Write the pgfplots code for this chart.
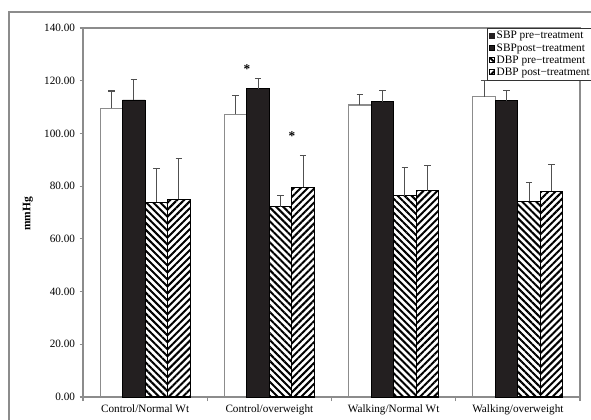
\documentclass[border=0pt]{standalone}
\usepackage{fontspec}
\setmainfont{Liberation Serif}
\usepackage{pgfplots}
\pgfplotsset{compat=1.18}
\usetikzlibrary{patterns.meta}
\definecolor{barblack}{HTML}{231F20}
\definecolor{framegray}{HTML}{8C8C8C}
\definecolor{errgray}{HTML}{505050}
\begin{document}
\begin{tikzpicture}
\useasboundingbox (0,0) rectangle (443.25pt,314.25pt);
\draw[framegray, line width=0.9pt] (6.75pt,-5pt) -- (6.75pt,305.25pt) -- (450pt,305.25pt);
\begin{axis}[
  at={(62.25pt,16.5pt)}, anchor=south west,
  scale only axis, width=372.75pt, height=276.75pt,
  ybar=0pt, bar width=16.875pt,
  xmin=-0.5, xmax=3.5, ymin=0, ymax=140,
  xtick={0,1,2,3},
  xticklabels={Control/Normal Wt, Control/overweight, Walking/Normal Wt, Walking/overweight},
  minor xtick={-0.5,0.5,1.5,2.5,3.5},
  ytick={0,20,...,140},
  xtick pos=left, ytick pos=left,
  tick align=outside,
  major tick length=2.5pt, minor tick length=3pt,
  major x tick style={draw=none},
  tick style={framegray, line width=0.8pt},
  axis line style={framegray, line width=0.9pt},
  ticklabel style={font=\fontsize{8.4}{10}\selectfont, text=black},
  /pgf/number format/.cd, fixed, fixed zerofill, precision=2, assume math mode=true,
  /pgfplots/.cd,
  ylabel={\textbf{mmHg}},
  ylabel style={at={(axis description cs:-0.111,0.496)}, anchor=center, font=\fontsize{8.6}{10}\selectfont},
  legend style={at={(axis description cs:0.813,1.0)}, anchor=north west, draw=black!80, line width=0.5pt,
    font=\fontsize{8.5}{9}\selectfont, inner sep=1pt, row sep=-0.6pt, legend cell align=left,
    nodes={inner sep=1.3pt}},
  legend image code/.code={\draw[#1, line width=0.3pt] (0pt,-1.6pt) rectangle (3.8pt,2.2pt);},
  error bars/y dir=plus, error bars/y explicit,
  error bars/error bar style={errgray, line width=0.8pt},
  error bars/error mark options={rotate=90, mark size=2.4pt, errgray, line width=0.8pt},
]
\addplot[fill=white, draw=framegray, line width=0.9pt,
  legend image code/.code={\fill[barblack] (0pt,-1.6pt) rectangle (3.8pt,2.2pt);}]
  coordinates {(0,109.5) +- (0,6.6) (1,107.2) +- (0,7.1) (2,110.8) +- (0,3.9) (3,113.9) +- (0,6.2)};
\addlegendentry{SBP pre−treatment}
\addplot[fill=barblack, draw=black, line width=0.6pt]
  coordinates {(0,112.7) +- (0,7.9) (1,117.0) +- (0,3.8) (2,112.0) +- (0,4.3) (3,112.4) +- (0,3.8)};
\addlegendentry{SBPpost−treatment}
\addplot[draw=black, line width=0.8pt, fill=white, postaction={pattern={Lines[angle=-45, distance=3.7pt, line width=1.5pt]}, pattern color=black}]
  coordinates {(0,73.9) +- (0,12.9) (1,72.2) +- (0,4.3) (2,76.4) +- (0,10.6) (3,74.2) +- (0,7.2)};
\addlegendentry{DBP pre−treatment}
\addplot[draw=black, line width=0.8pt, fill=white, postaction={pattern={Lines[angle=45, distance=3.7pt, line width=1.5pt]}, pattern color=black}]
  coordinates {(0,75.0) +- (0,15.4) (1,79.5) +- (0,12.3) (2,78.3) +- (0,9.6) (3,78.0) +- (0,10.3)};
\addlegendentry{DBP post−treatment}
\draw[framegray, line width=0.9pt] (rel axis cs:0,1) -- (rel axis cs:1,1) -- (rel axis cs:1,0);
\node[font=\fontsize{10}{10}\selectfont\bfseries, inner sep=0pt] at (axis cs:0.819,124.4) {*};
\node[font=\fontsize{10}{10}\selectfont\bfseries, inner sep=0pt] at (axis cs:1.181,99.0) {*};
\end{axis}
\end{tikzpicture}
\end{document}
